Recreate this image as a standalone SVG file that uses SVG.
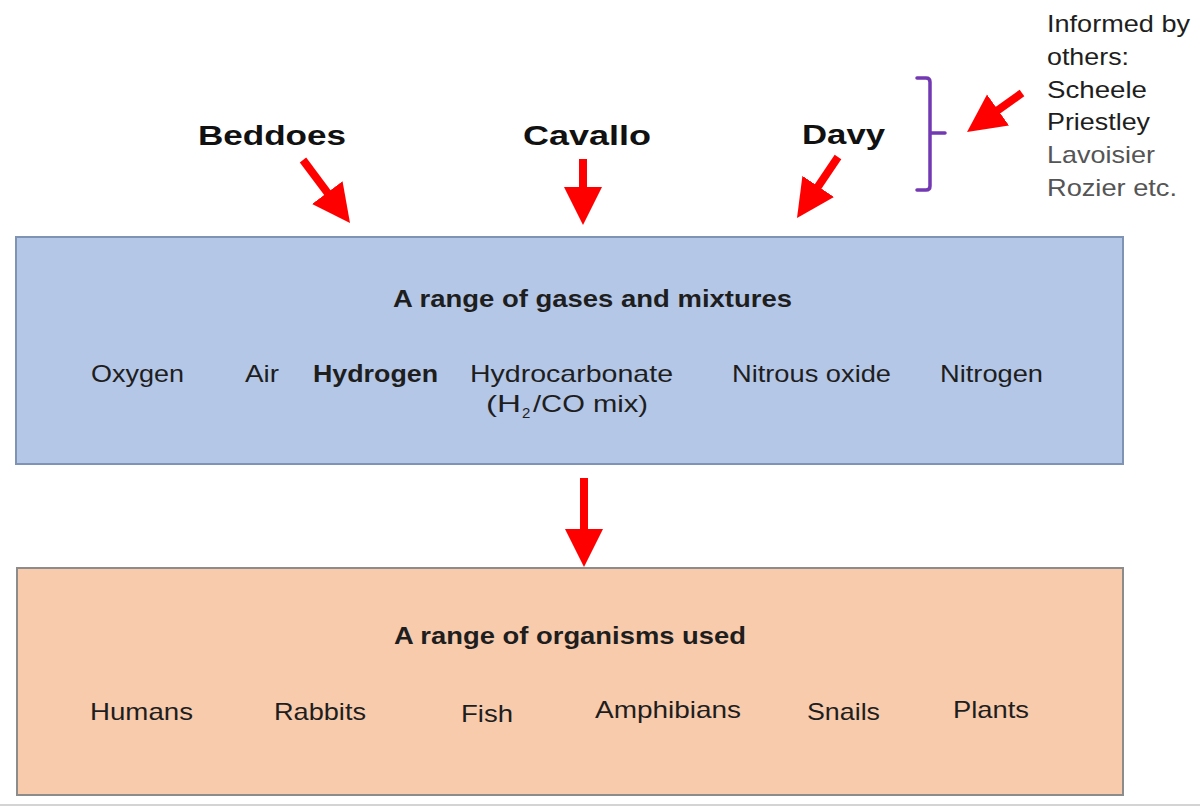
<svg xmlns="http://www.w3.org/2000/svg" width="1200" height="808" viewBox="0 0 1200 808">
<style>
.t{font-family:"Liberation Sans",Arial,sans-serif;fill:#1e1e1e;}
.b{font-weight:bold;}
.name{font-size:28px;font-weight:bold;fill:#111;}
.side{font-size:24px;}
.item{font-size:24px;}
.ttl{font-size:24px;font-weight:bold;}
.arrow{stroke:#ff0000;stroke-width:8;fill:none;}
</style>
<defs>
<marker id="ah" markerUnits="userSpaceOnUse" markerWidth="40" markerHeight="40" refX="2" refY="19" orient="auto">
<path d="M0,0 L38,19 L0,38 z" fill="#ff0000"/>
</marker>
</defs>
<rect width="1200" height="808" fill="#ffffff"/>
<line x1="0" y1="805" x2="1200" y2="805" stroke="#d4d4d4" stroke-width="2"/>

<g id="beddoes"><text class="t name" x="198" y="145" textLength="148" lengthAdjust="spacingAndGlyphs">Beddoes</text></g>
<g id="cavallo"><text class="t name" x="523" y="145" textLength="128" lengthAdjust="spacingAndGlyphs">Cavallo</text></g>
<g id="davy"><text class="t name" x="802" y="144" textLength="83" lengthAdjust="spacingAndGlyphs">Davy</text></g>

<g id="others">
<path d="M917,78 L926,78 Q930,78 930,82 L930,186 Q930,190 926,190 L917,190 M930,133 L945,133" fill="none" stroke="#7239b3" stroke-width="3.5" stroke-linecap="round"/>
<text class="t side" x="1047" y="32" textLength="143" lengthAdjust="spacingAndGlyphs">Informed by</text>
<text class="t side" x="1047" y="65" textLength="82" lengthAdjust="spacingAndGlyphs">others:</text>
<text class="t side" x="1047" y="98" textLength="100" lengthAdjust="spacingAndGlyphs">Scheele</text>
<text class="t side" x="1047" y="130" textLength="103" lengthAdjust="spacingAndGlyphs">Priestley</text>
<text class="t side" x="1047" y="163" textLength="108" lengthAdjust="spacingAndGlyphs" style="fill:#555">Lavoisier</text>
<text class="t side" x="1047" y="196" textLength="130" lengthAdjust="spacingAndGlyphs" style="fill:#555">Rozier etc.</text>
</g>

<g id="gases">
<rect x="16" y="237" width="1107" height="227" fill="#b4c7e7" stroke="#7f93b5" stroke-width="2"/>
<text class="t ttl" x="393" y="307" textLength="399" lengthAdjust="spacingAndGlyphs">A range of gases and mixtures</text>
<text class="t item" x="91" y="382" textLength="93" lengthAdjust="spacingAndGlyphs">Oxygen</text>
<text class="t item" x="245" y="382" textLength="34" lengthAdjust="spacingAndGlyphs">Air</text>
<text class="t item b" x="313" y="382" textLength="125" lengthAdjust="spacingAndGlyphs">Hydrogen</text>
<text class="t item" x="470" y="382" textLength="203" lengthAdjust="spacingAndGlyphs">Hydrocarbonate</text>
<text class="t item" x="486" y="412" textLength="35" lengthAdjust="spacingAndGlyphs">(H</text>
<text class="t" x="522" y="418" style="font-size:15px">2</text>
<text class="t item" x="533" y="412" textLength="115" lengthAdjust="spacingAndGlyphs">/CO mix)</text>
<text class="t item" x="732" y="382" textLength="159" lengthAdjust="spacingAndGlyphs">Nitrous oxide</text>
<text class="t item" x="940" y="382" textLength="103" lengthAdjust="spacingAndGlyphs">Nitrogen</text>
</g>

<g id="organisms">
<rect x="17" y="568" width="1106" height="227" fill="#f8cbad" stroke="#8c8c8c" stroke-width="2"/>
<text class="t ttl" x="394" y="644" textLength="352" lengthAdjust="spacingAndGlyphs">A range of organisms used</text>
<text class="t item" x="90" y="720" textLength="103" lengthAdjust="spacingAndGlyphs">Humans</text>
<text class="t item" x="274" y="720" textLength="92" lengthAdjust="spacingAndGlyphs">Rabbits</text>
<text class="t item" x="461" y="722" textLength="52" lengthAdjust="spacingAndGlyphs">Fish</text>
<text class="t item" x="595" y="718" textLength="146" lengthAdjust="spacingAndGlyphs">Amphibians</text>
<text class="t item" x="807" y="720" textLength="73" lengthAdjust="spacingAndGlyphs">Snails</text>
<text class="t item" x="953" y="718" textLength="76" lengthAdjust="spacingAndGlyphs">Plants</text>
</g>

<g id="connectors">
<line class="arrow" x1="303" y1="160" x2="328.5" y2="194.2" marker-end="url(#ah)"/>
<line class="arrow" x1="583" y1="159" x2="583" y2="189" marker-end="url(#ah)"/>
<line class="arrow" x1="838" y1="157" x2="817.1" y2="188.1" marker-end="url(#ah)"/>
<line class="arrow" x1="1022" y1="93" x2="996.4" y2="111.2" marker-end="url(#ah)"/>
<line class="arrow" x1="584" y1="478" x2="584" y2="531" marker-end="url(#ah)"/>
</g>
</svg>
